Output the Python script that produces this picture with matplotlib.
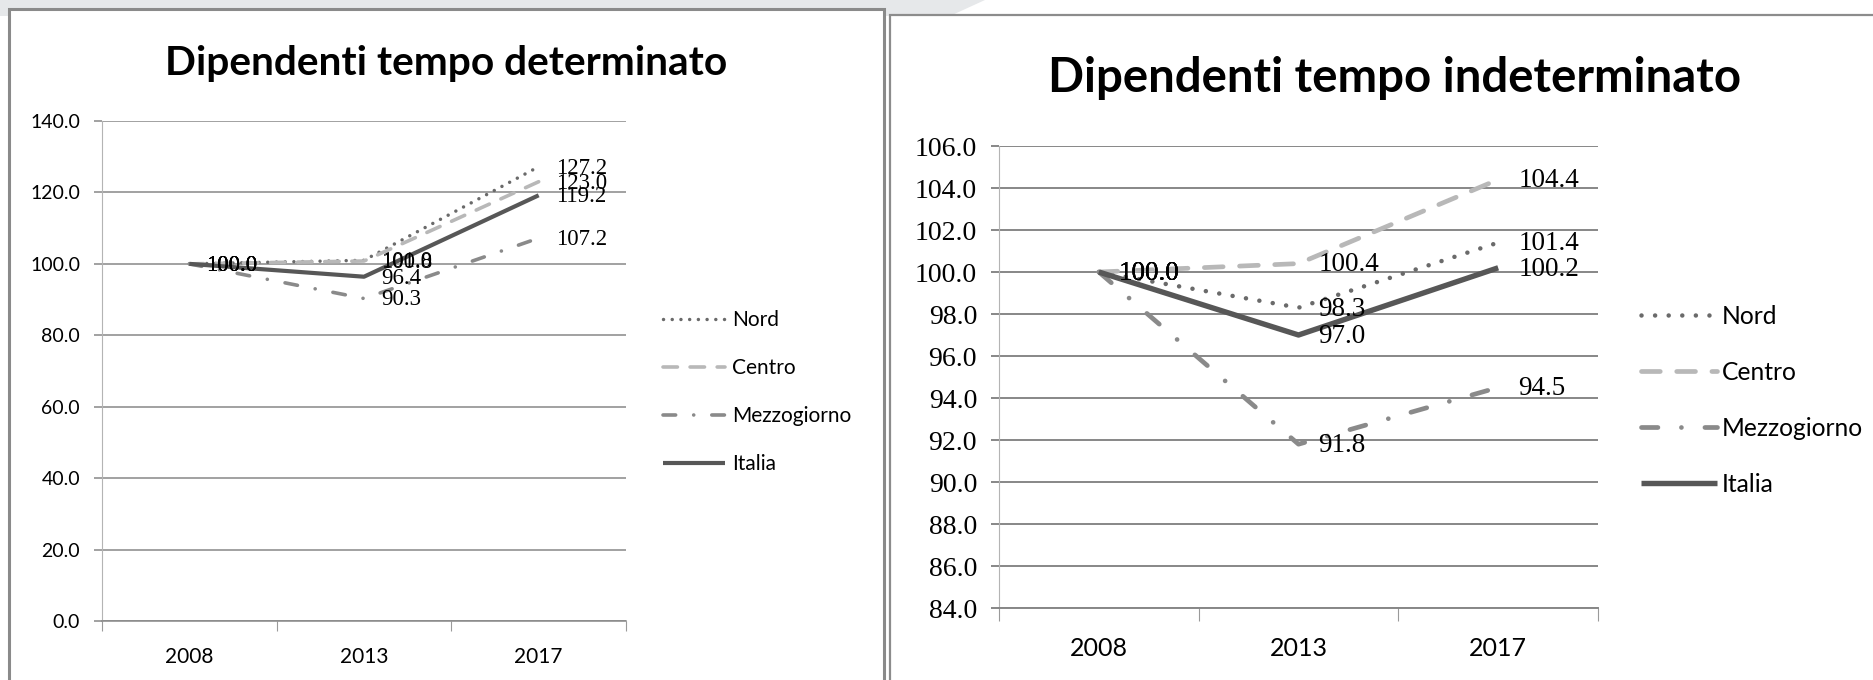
import matplotlib
matplotlib.use("Agg")
import matplotlib.pyplot as plt
from matplotlib.patches import Rectangle, Polygon

W, H = 1874, 680

years = ["2008", "2013", "2017"]
series_names = ["Nord", "Centro", "Mezzogiorno", "Italia"]

# Dipendenti tempo determinato (indice 2008 = 100)
det_nord = [100.0, 101.0, 127.2]
det_centro = [100.0, 100.8, 123.0]
det_mezzogiorno = [100.0, 90.3, 107.2]
det_italia = [100.0, 96.4, 119.2]
det_yticks = [0.0, 20.0, 40.0, 60.0, 80.0, 100.0, 120.0, 140.0]

# Dipendenti tempo indeterminato (indice 2008 = 100)
ind_nord = [100.0, 98.3, 101.4]
ind_centro = [100.0, 100.4, 104.4]
ind_mezzogiorno = [100.0, 91.8, 94.5]
ind_italia = [100.0, 97.0, 100.2]
ind_yticks = [84.0, 86.0, 88.0, 90.0, 92.0, 94.0, 96.0, 98.0, 100.0, 102.0, 104.0, 106.0]

title_det = "Dipendenti tempo determinato"
title_ind = "Dipendenti tempo indeterminato"

SANS = ["Lato", "DejaVu Sans"]
SERIF = ["Liberation Serif", "DejaVu Serif"]
PX = 0.72  # points per pixel at dpi 100


def fx(px):
    return px / W


def fy(py):
    return 1 - py / H


fig = plt.figure(figsize=(W / 100, H / 100), dpi=100)
fig.patch.set_facecolor("white")

# light grey band at the very top (background of the slide)
fig.add_artist(Polygon([(fx(0), fy(0)), (fx(985), fy(0)), (fx(950), fy(16)), (fx(0), fy(16))],
                       closed=True, transform=fig.transFigure, facecolor="#e6e8ea",
                       edgecolor="none", zorder=0))

# panel frames
fig.add_artist(Rectangle((fx(9), fy(700)), fx(884) - fx(9), fy(9) - fy(700),
                         transform=fig.transFigure, facecolor="white",
                         edgecolor="#8a8a8a", lw=2.2, zorder=1))
fig.add_artist(Rectangle((fx(890), fy(700)), fx(1900) - fx(890), fy(15) - fy(700),
                         transform=fig.transFigure, facecolor="white",
                         edgecolor="#8c8c8c", lw=1.6, zorder=1))


def make_panel(rect_px, data, yticks, ylim, cfg):
    x0, ytop, x1, ybot = rect_px
    ax = fig.add_axes([fx(x0), fy(ybot), fx(x1) - fx(x0), fy(ytop) - fy(ybot)])
    ax.set_facecolor("none")
    ax.set_zorder(5)
    xs = list(range(len(years)))
    s = cfg["scale"]
    styles = {
        "Nord": dict(color="#6a6a6a", lw=2.5 * s, linestyle=(0, (0.01, cfg["dotgap"])),
                     dash_capstyle="round"),
        "Centro": dict(color="#b8b8b8", lw=2.6 * s, linestyle=(0, (4.0, 3.5)),
                       dash_capstyle="round"),
        "Mezzogiorno": dict(color="#8a8a8a", lw=2.6 * s, linestyle=(0, (3.5, 5.0, 0.01, 5.0)),
                            dash_capstyle="round"),
        "Italia": dict(color="#575757", lw=3.0 * s, linestyle="-", solid_capstyle="butt"),
    }
    for name, vals in zip(series_names, data):
        ax.plot(xs, vals, label=name, zorder=3, **styles[name])
    for name, vals in zip(series_names, data):
        for i, v in enumerate(vals):
            ax.annotate(f"{v:.1f}", (xs[i], v), xytext=(cfg["lab_off"] * PX, -1),
                        textcoords="offset points", ha="left", va="center",
                        fontfamily=SERIF, fontsize=cfg["lab_fs"], color="black", zorder=6)
    ax.set_xlim(-0.5, len(years) - 0.5)
    ax.set_ylim(*ylim)
    ax.set_xticks(xs, years)
    ax.set_xticks([i - 0.5 for i in range(len(years) + 1)], minor=True)
    ax.tick_params(axis="x", which="major", length=0, pad=cfg["xpad"], labelsize=cfg["xfs"])
    ax.tick_params(axis="x", which="minor", length=cfg["xtick_len"] * PX, width=0.8,
                   color="#9a9a9a", direction="out")
    for lab in ax.get_xticklabels():
        lab.set_fontfamily(SANS)
    ax.set_yticks(yticks, [f"{v:.1f}" for v in yticks])
    ax.tick_params(axis="y", length=8 * PX, width=cfg["grid_lw"], color="#878787",
                   pad=cfg["ypad"], labelsize=cfg["yfs"])
    for lab in ax.get_yticklabels():
        lab.set_fontfamily(cfg["yfont"])
    ax.grid(axis="y", color="#878787", lw=cfg["grid_lw"])
    ax.set_axisbelow(True)
    for sp in ["top", "right"]:
        ax.spines[sp].set_visible(False)
    ax.spines["left"].set_color("#b4b4b4")
    ax.spines["left"].set_linewidth(0.8)
    ax.spines["bottom"].set_color("#878787")
    ax.spines["bottom"].set_linewidth(cfg["grid_lw"])
    ax.legend(loc="upper left", bbox_to_anchor=(fx(cfg["leg_x"]), fy(cfg["leg_y"])),
              bbox_transform=fig.transFigure, frameon=False, borderpad=0,
              borderaxespad=0, handlelength=cfg["hl"], handletextpad=cfg["htp"],
              labelspacing=cfg["ls"], prop={"family": SANS, "size": cfg["leg_fs"]})
    return ax


cfg_left = dict(scale=1.0, dotgap=2.5, lab_off=17, lab_fs=16.5, xpad=19, xfs=15,
                xtick_len=10, grid_lw=1.1, ypad=10, yfs=14, yfont=SANS,
                leg_x=663, leg_y=310, hl=3.0, htp=0.3, ls=1.35, leg_fs=15)
cfg_right = dict(scale=1.3, dotgap=3.0, lab_off=20, lab_fs=19.5, xpad=21, xfs=18,
                 xtick_len=13, grid_lw=1.4, ypad=10, yfs=20, yfont=SERIF,
                 leg_x=1641, leg_y=305, hl=3.1, htp=0.2, ls=1.34, leg_fs=17.7)

make_panel((102, 121, 626, 621),
           [det_nord, det_centro, det_mezzogiorno, det_italia],
           det_yticks, (0, 140), cfg_left)
make_panel((999, 146, 1598, 608),
           [ind_nord, ind_centro, ind_mezzogiorno, ind_italia],
           ind_yticks, (84, 106), cfg_right)

# titles, fitted to the reference widths
renderer = fig.canvas.get_renderer()
for text, cx, base, target_w in [(title_det, 446, 75, 563), (title_ind, 1395, 92, 694)]:
    t = fig.text(fx(cx), fy(base), text, ha="center", va="baseline",
                 fontfamily=SANS, fontweight="bold", fontsize=28, color="black", zorder=6)
    w = t.get_window_extent(renderer).width
    t.set_fontsize(28 * target_w / w)

fig.savefig("out.png", dpi=100, facecolor="white")
